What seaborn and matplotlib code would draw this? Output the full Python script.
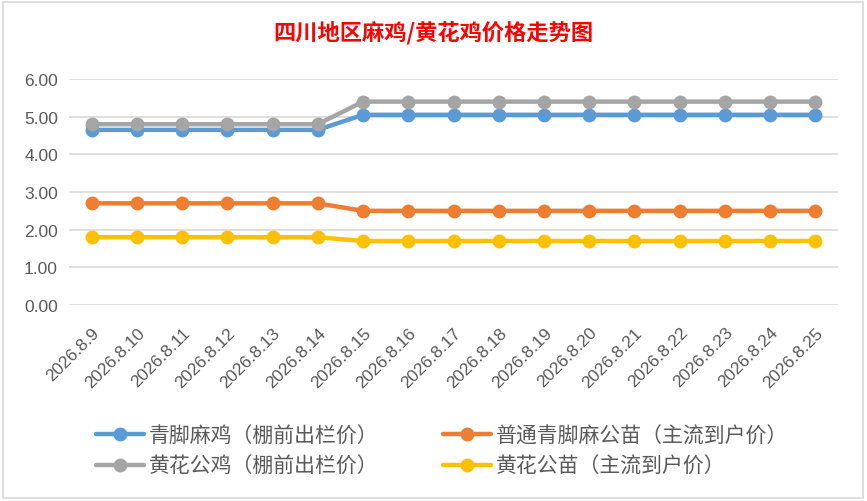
import pandas as pd
import numpy as np
import matplotlib
matplotlib.use("Agg")
import matplotlib.pyplot as plt
import seaborn as sns
from matplotlib.patches import Rectangle

dates = ["2026.8.9", "2026.8.10", "2026.8.11", "2026.8.12", "2026.8.13", "2026.8.14",
         "2026.8.15", "2026.8.16", "2026.8.17", "2026.8.18", "2026.8.19", "2026.8.20",
         "2026.8.21", "2026.8.22", "2026.8.23", "2026.8.24", "2026.8.25"]

qingjiao_ma = [4.65] * 6 + [5.05] * 11
putong_gongmiao = [2.7] * 6 + [2.5] * 11
huanghua_gongji = [4.8] * 6 + [5.4] * 11
huanghua_gongmiao = [1.8] * 6 + [1.7] * 11

series_names = ["青脚麻鸡（棚前出栏价）", "普通青脚麻公苗（主流到户价）",
                "黄花公鸡（棚前出栏价）", "黄花公苗（主流到户价）"]
series_values = [qingjiao_ma, putong_gongmiao, huanghua_gongji, huanghua_gongmiao]
colors = ["#5B9BD5", "#ED7D31", "#A5A5A5", "#FFC000"]

# 长表格式
df = pd.concat([
    pd.DataFrame({"日期": dates, "价格": vals, "品种": name})
    for name, vals in zip(series_names, series_values)
], ignore_index=True)

sns.set_theme(style="white")
plt.rcParams['font.family'] = ['Noto Sans CJK SC', 'DejaVu Sans']

fig = plt.figure(figsize=(8.67, 5.02), dpi=100)
ax = fig.add_axes([0.0796, 0.3904, 0.887, 0.4502])

sns.lineplot(data=df, x="日期", y="价格", hue="品种", hue_order=series_names,
             palette=colors, marker="o", markersize=10, linewidth=3.2,
             markeredgewidth=0, sort=False, ax=ax, legend=False)

ax.set_ylim(0, 6)
ax.set_xlim(-0.5, len(dates) - 0.5)
ax.set_yticks(np.arange(0, 6.01, 1))
ax.set_yticklabels([f"{v:.2f}" for v in np.arange(0, 6.01, 1)],
                   family="Liberation Sans", fontsize=12.5, color="#595959")
ax.set_xticks(range(len(dates)))
ax.set_xticklabels(dates, rotation=45, ha="right", rotation_mode="anchor",
                   family="Liberation Sans", fontsize=12.5, color="#595959")
ax.tick_params(axis="y", length=0, pad=8)
ax.tick_params(axis="x", length=0, pad=14)
ax.set_xlabel("")
ax.set_ylabel("")
ax.grid(axis="y", color="#D9D9D9", linewidth=1.2)
ax.set_axisbelow(True)
for s in ax.spines.values():
    s.set_visible(False)

fig.text(0.5, 0.934, "四川地区麻鸡/黄花鸡价格走势图", ha="center", va="center",
         color="#FF0000", fontsize=16, fontweight="bold")

# 图例顺序：按行排列
handles = [plt.Line2D([], [], color=c, marker="o", markersize=10, linewidth=3.2,
                      markeredgewidth=0) for c in colors]
order = [0, 2, 1, 3]
fig.legend([handles[i] for i in order], [series_names[i] for i in order],
           loc="center", bbox_to_anchor=(0.51, 0.1), ncol=2, frameon=False,
           fontsize=15, handlelength=2.3, handletextpad=0.25, columnspacing=3.1,
           labelspacing=0.4, labelcolor="#595959")

fig.patches.append(Rectangle((0.004, 0.006), 0.991, 0.988, transform=fig.transFigure,
                             fill=False, edgecolor="#D9D9D9", linewidth=1.2))

fig.savefig("out.png", dpi=100, facecolor="white")
